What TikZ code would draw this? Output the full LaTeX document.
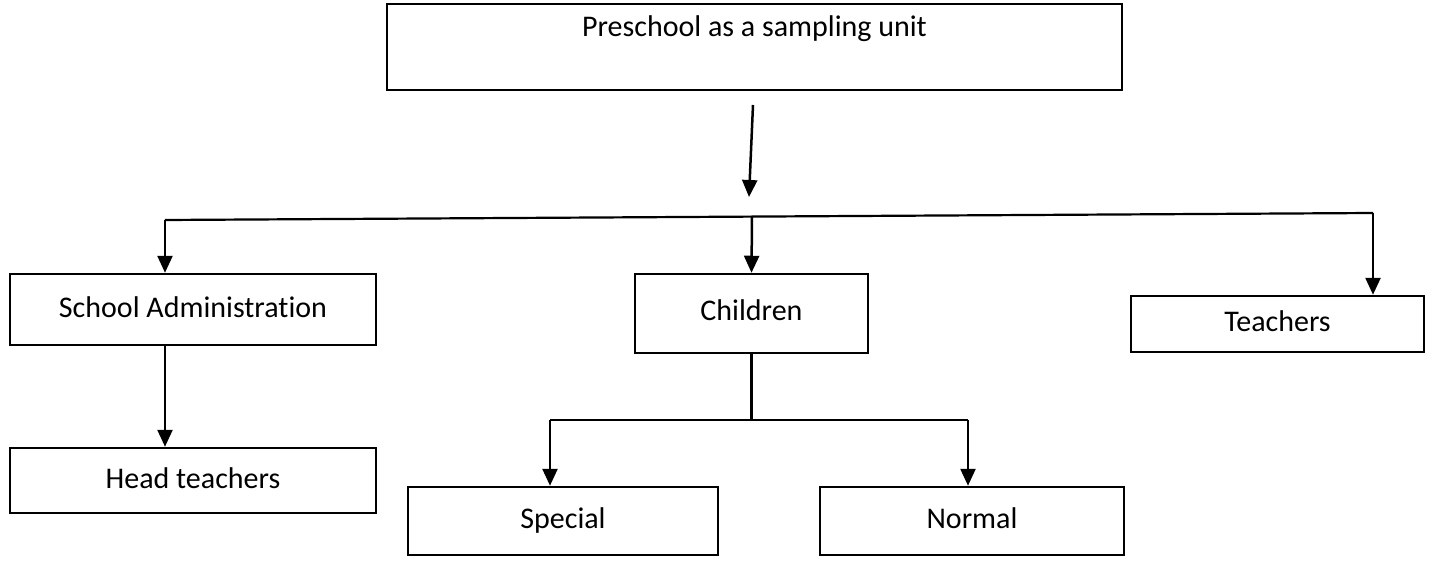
\documentclass[tikz,border=0pt]{standalone}
\usepackage{fontspec}
\setmainfont{Carlito}[Ligatures=NoCommon]
\usetikzlibrary{arrows.meta,positioning,calc}
\definecolor{ink}{HTML}{000000}
\tikzset{
 box/.style={draw=ink,line width=1.25pt,align=center,text=ink,inner sep=0pt,text height=10.5pt,text depth=3pt},
 flow/.style={-{Triangle[length=8.5pt,width=7.5pt]},draw=ink,line width=1.25pt},
 link/.style={draw=ink,line width=1.1pt}
}

\begin{document}
\begin{tikzpicture}[x=0.5pt,y=-0.5pt,font=\fontsize{15}{18}\selectfont]
  \useasboundingbox (0,0) rectangle (1431,583);

  \node[box,minimum width=367.5pt,minimum height=43pt] (unit) at (754.5,47) {};
  \node[text=ink] (unittext) at ([yshift=-13pt]unit.north) {Preschool as a sampling unit};

  \node[box,minimum width=183pt,minimum height=35.5pt] (admin) at (193,309.5) {School Administration};
  \node[box,minimum width=116.5pt,minimum height=39.5pt] (children) at (751.5,313.5) {Children};
  \node[box,minimum width=146.5pt,minimum height=28pt] (teachers) at (1277.5,324) {Teachers};
  \node[box,minimum width=183pt,minimum height=32.5pt] (head) at (193,480.5) {Head teachers};
  \node[box,minimum width=155pt,minimum height=34pt] (special) at (563,521) {Special};
  \node[box,minimum width=152pt,minimum height=34pt] (normal) at (972,521) {Normal};

  \coordinate (drop) at (753,105);
  \coordinate (hub) at (749,197);
  \coordinate (busL) at (165,220);
  \coordinate (busM) at (752,217);
  \coordinate (busR) at (1373,213);
  \coordinate (forkL) at (550,420);
  \coordinate (forkR) at (968,420);

  \draw[flow] (drop) -- (hub);
  \draw[link] (busL) -- (busR);
  \draw[flow] (busL) -- (busL |- admin.north);
  \draw[flow] (busM) -- (children.north);
  \draw[flow] (busR) -- (busR |- teachers.north);
  \draw[flow] (busL |- admin.south) -- (busL |- head.north);
  \draw[link] (children.south) -- (children.south |- forkL);
  \draw[link] (forkL) -- (forkR);
  \draw[flow] (forkL) -- (forkL |- special.north);
  \draw[flow] (forkR) -- (forkR |- normal.north);
\end{tikzpicture}
\end{document}
